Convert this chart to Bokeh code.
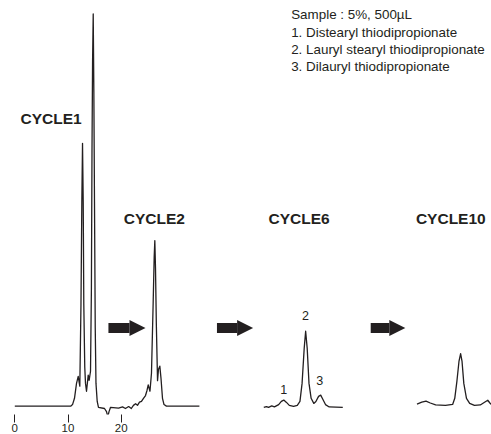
from bokeh.plotting import figure
from bokeh.models import Range1d, Label, Arrow, NormalHead, FixedTicker
from bokeh.embed import file_html
from bokeh.resources import INLINE

# ---- data (time in min, detector signal in relative units) ----
run_time = [0, 10.5, 10.85, 11.22, 11.6, 11.92, 12.22, 12.44, 12.6, 12.73, 12.86, 12.97,
            13.15, 13.29, 13.48, 13.8, 13.98, 14.23, 14.4, 14.51, 14.62, 14.74, 14.86,
            14.98, 15.12, 15.26, 15.49, 15.73, 16.86, 17.24, 17.48, 17.71, 18.0, 19.5,
            20.25, 20.8, 21.4, 21.9, 22.3, 22.7, 23.06, 23.44, 23.81, 24.19, 24.57, 24.85,
            25.08, 25.41, 25.69, 26.01, 26.2, 26.32, 26.45, 26.6, 26.83, 27.01, 27.26,
            27.48, 27.76, 28.05, 28.5, 34.7]
run_signal = [0, 0, 0.4, 2.0, 5.8, 7.6, 5.1, 26, 52, 67.0, 52, 26,
              10, 5.8, 3.8, 7.9, 6.6, 8.9, 30, 64.9, 88, 100, 80,
              52, 20, 5.8, 1.2, -0.3, -0.6, -1.4, -2.7, -1.4, -0.3, -0.5,
              -0.2, -0.6, -0.1, -0.6, 0.2, 0.6, 0.2, 1.0, 1.2, 2.0, 2.7, 4.0,
              5.4, 3.8, 8.4, 26.4, 38, 42.2, 35, 21.2, 6.5, 9.4, 10.2,
              7.1, 2.0, 0.4, 0, 0]

cycle6_time = [46.8, 47.3, 47.7, 48.3, 48.8, 49.6, 50.1, 50.56, 51.07, 51.6, 52.4, 53.1,
               53.6, 54.0, 54.4, 54.67, 54.96, 55.3, 55.7, 56.2, 56.6, 57.1, 57.5, 57.8,
               58.4, 59.1, 61.65]
cycle6_signal = [-0.33, -0.1, -0.33, 0.05, -0.2, 0.4, 1.2, 1.54, 0.95, 0.2, -0.08, 0.2,
                 1.2, 5.8, 14.8, 19.1, 14.8, 5.8, 2.0, 0.7, 1.2, 2.5, 2.8, 2.0,
                 0.4, -0.2, -0.33]

cycle10_time = [75.6, 76.5, 77.3, 78.1, 79.1, 80.95, 82.3, 82.7, 83.1, 83.5, 83.8, 84.06,
                84.4, 84.9, 85.5, 86.4, 87.5, 88.3, 88.9, 89.3, 89.7]
cycle10_signal = [0.5, 1.0, 1.3, 0.8, 0.3, 0.18, 0.44, 2.0, 6.3, 11.5, 13.4, 11.5,
                  5.8, 2.0, 0.7, 0.18, 0.3, 1.0, 1.5, 0.8, 0.3]

tick_values = [0, 10, 20]
tick_labels = ["0", "10", "20"]
cycle_labels = ["CYCLE1", "CYCLE2", "CYCLE6", "CYCLE10"]
peak_labels = ["1", "2", "3"]
sample_lines = ["Sample : 5%, 500\u00b5L",
                "1. Distearyl thiodipropionate",
                "2. Lauryl stearyl thiodipropionate",
                "3. Dilauryl thiodipropionate"]

# ---- layout constants ----
INK = "#231f20"
FONT = "Liberation Sans"

p = figure(width=491, height=434,
           x_range=Range1d(-2.688, 89.605), y_range=Range1d(-2.13, 103.42),
           output_backend="svg", toolbar_location=None,
           y_axis_location=None, min_border=0,
           outline_line_color=None)
p.grid.visible = False

ax = p.xaxis[0]
ax.ticker = FixedTicker(ticks=tick_values)
ax.major_label_overrides = {v: s for v, s in zip(tick_values, tick_labels)}
ax.axis_line_color = None
ax.major_tick_in = 0
ax.major_tick_out = 8
ax.major_tick_line_color = INK
ax.minor_tick_line_color = None
ax.major_label_standoff = 1
ax.major_label_text_font = FONT
ax.major_label_text_font_size = "11.5px"
ax.major_label_text_color = INK

for xs, ys in [(run_time, run_signal), (cycle6_time, cycle6_signal),
               (cycle10_time, cycle10_signal)]:
    p.line(xs, ys, line_color=INK, line_width=1.3, line_join="round")

# arrows
for xs, xe in [(17.6, 24.57), (38.0, 44.8), (66.9, 73.4)]:
    p.add_layout(Arrow(end=NormalHead(size=16, fill_color=INK, line_color=INK, line_width=0),
                       x_start=xs, y_start=19.95, x_end=xe, y_end=19.95,
                       line_color=INK, line_width=10))

# cycle titles
for txt, (lx, ly) in zip(cycle_labels, [(1.07, 73.4), (20.49, 47.9), (47.69, 47.9), (75.4, 47.9)]):
    p.add_layout(Label(x=lx, y=ly, text=txt, text_font=FONT, text_font_style="bold",
                       text_font_size="15.5px", text_color=INK, text_baseline="middle",
                       text_align="left"))

# peak numbers
for txt, (lx, ly) in zip(peak_labels, [(50.56, 4.28), (54.64, 23.0), (57.33, 6.5)]):
    p.add_layout(Label(x=lx, y=ly, text=txt, text_font=FONT, text_font_size="12.5px",
                       text_color=INK, text_baseline="middle", text_align="center"))

# sample description
for txt, ly in zip(sample_lines, [99.8, 95.3, 91.0, 86.7]):
    p.add_layout(Label(x=51.95, y=ly, text=txt, text_font=FONT, text_font_size="13.4px",
                       text_color=INK, text_baseline="middle", text_align="left"))

open("out.html", "w").write(file_html(p, INLINE))
